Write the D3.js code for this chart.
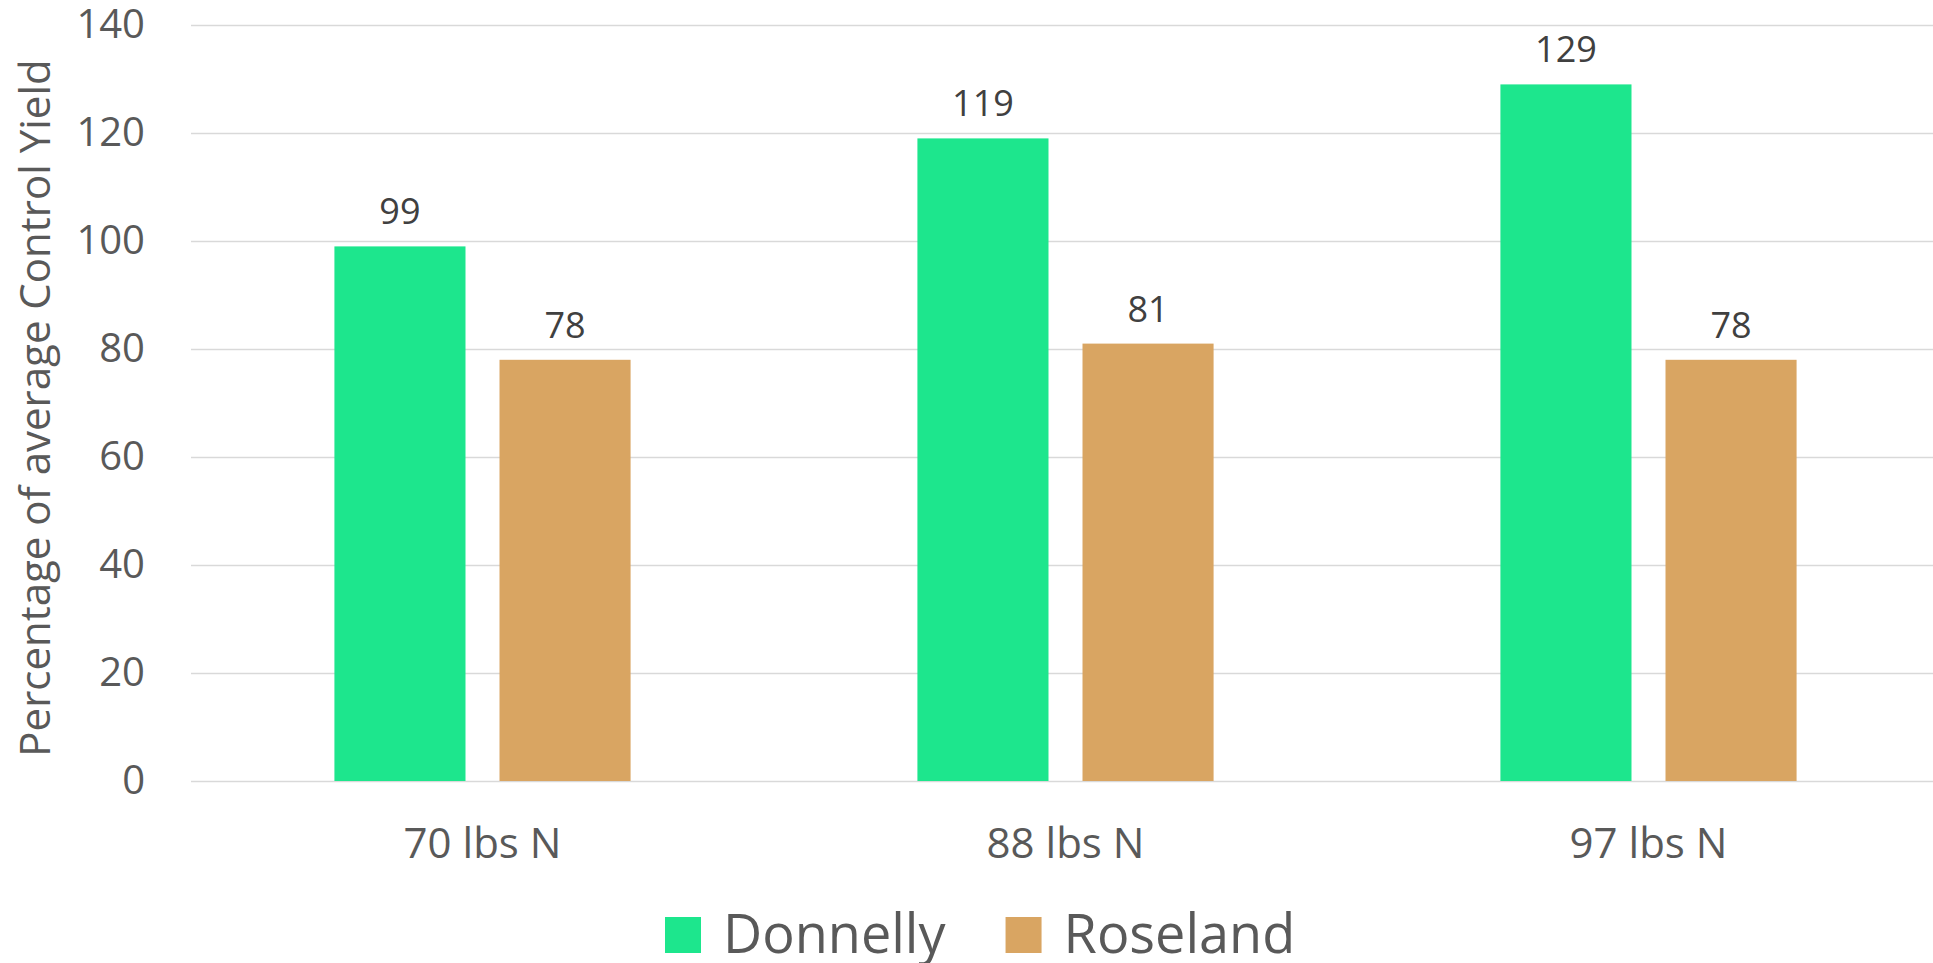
<!DOCTYPE html>
<html>
<head>
<meta charset="utf-8">
<script src="https://cdn.jsdelivr.net/npm/d3@7"></script>
<style>
  body { margin: 0; background: #fff; }
  svg { display: block; }
</style>
</head>
<body>
<div id="chart"></div>
<script>
// data
const categories = ["70 lbs N", "88 lbs N", "97 lbs N"];
const seriesNames = ["Donnelly", "Roseland"];
const donnelly = [99, 119, 129];
const roseland = [78, 81, 78];
const yTicks = [0, 20, 40, 60, 80, 100, 120, 140];

const colors = {Donnelly: "#1de68d", Roseland: "#d9a562"};

const W = 1933, H = 963;
const margin = {top: 25, right: -7, bottom: 182, left: 191};
const width = W - margin.left - margin.right,
      height = H - margin.top - margin.bottom;

const svg = d3.select("#chart")
  .append("svg")
  .attr("width", W)
  .attr("height", H)
  .style("font-family", "'Open Sans', sans-serif");

const g = svg.append("g")
  .attr("transform", `translate(${margin.left}, ${margin.top})`);

// scales
const x = d3.scaleBand()
  .domain(categories)
  .range([0, width])
  .padding(0);

const inner = x.bandwidth() * 0.508;
const x1 = d3.scaleBand()
  .domain(seriesNames)
  .range([(x.bandwidth() - inner) / 2, (x.bandwidth() + inner) / 2])
  .paddingInner(0.206)
  .paddingOuter(0);

const y = d3.scaleLinear()
  .domain([0, 140])
  .range([height, 0]);

// gridlines
g.append("g")
  .selectAll("line")
  .data(yTicks)
  .join("line")
  .attr("x1", 0)
  .attr("x2", width)
  .attr("y1", d => Math.round(y(d)) + 0.5)
  .attr("y2", d => Math.round(y(d)) + 0.5)
  .attr("stroke", "#d9d9d9")
  .attr("stroke-width", 1.5);

// y axis labels
const yAxis = g.append("g")
  .call(d3.axisLeft(y).tickValues(yTicks).tickSize(0).tickPadding(46))
  .style("font-family", "'Open Sans', sans-serif")
  .style("font-size", "40px");
yAxis.select(".domain").remove();
yAxis.selectAll("text").attr("fill", "#595959");

// x axis labels
const xAxis = g.append("g")
  .attr("transform", `translate(0, ${height})`)
  .call(d3.axisBottom(x).tickSize(0).tickPadding(47))
  .style("font-family", "'Open Sans', sans-serif")
  .style("font-size", "42px");
xAxis.select(".domain").remove();
xAxis.selectAll("text").attr("fill", "#595959");

// bars
const rows = categories.map((c, i) => ({
  cat: c,
  vals: [
    {name: "Donnelly", value: donnelly[i]},
    {name: "Roseland", value: roseland[i]}
  ]
}));

const groups = g.selectAll(".grp")
  .data(rows)
  .join("g")
  .attr("class", "grp")
  .attr("transform", d => `translate(${x(d.cat)}, 0)`);

groups.selectAll("rect")
  .data(d => d.vals)
  .join("rect")
  .attr("x", d => x1(d.name))
  .attr("y", d => y(d.value))
  .attr("width", x1.bandwidth())
  .attr("height", d => y(0) - y(d.value))
  .attr("fill", d => colors[d.name]);

groups.selectAll("text.lbl")
  .data(d => d.vals)
  .join("text")
  .attr("class", "lbl")
  .attr("x", d => x1(d.name) + x1.bandwidth() / 2)
  .attr("y", d => y(d.value) - 22)
  .attr("text-anchor", "middle")
  .attr("fill", "#404040")
  .style("font-size", "36px")
  .text(d => d.value);

// y axis title
svg.append("text")
  .attr("transform", `translate(50, ${margin.top + height / 2 + 5}) rotate(-90)`)
  .attr("text-anchor", "middle")
  .attr("fill", "#595959")
  .style("font-size", "42px")
  .text("Percentage of average Control Yield");

// legend
const legend = svg.append("g").attr("transform", "translate(665, 953)");
let lx = 0;
seriesNames.forEach((s, i) => {
  const item = legend.append("g").attr("transform", `translate(${lx}, 0)`);
  item.append("rect")
    .attr("x", 0)
    .attr("y", -36)
    .attr("width", 36)
    .attr("height", 36)
    .attr("fill", colors[s]);
  const t = item.append("text")
    .attr("x", 58)
    .attr("y", 0)
    .attr("fill", "#595959")
    .style("font-size", "54px")
    .text(s);
  lx += 58 + t.node().getComputedTextLength() + 60;
});
</script>
</body>
</html>
